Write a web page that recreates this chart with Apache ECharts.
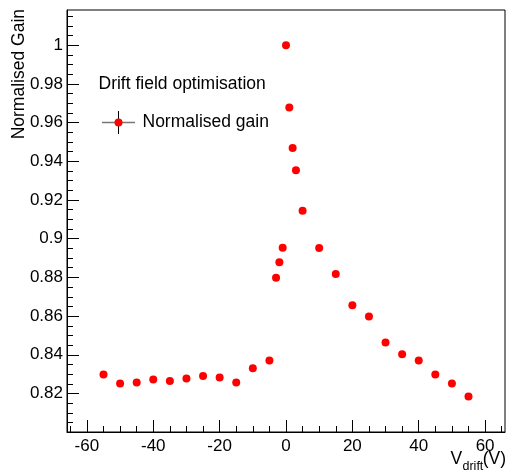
<!DOCTYPE html>
<html><head><meta charset="utf-8">
<script src="https://cdn.jsdelivr.net/npm/echarts@6/dist/echarts.min.js"></script>
<style>html,body{margin:0;padding:0;background:#fff}#c{width:507px;height:472px}</style>
</head><body><div id="c"></div>
<script>
const voltages = [-55,-50,-45,-40,-35,-30,-25,-20,-15,-10,-5,-3,-2,-1,0,1,2,3,5,10,15,20,25,30,35,40,45,50,55];
const gains = [0.8298,0.8252,0.8257,0.8272,0.8264,0.8278,0.8291,0.8283,0.8257,0.8331,0.8371,0.8798,0.8878,0.8953,1.0,0.9678,0.9469,0.9354,0.9144,0.8952,0.8818,0.8656,0.8598,0.8464,0.8403,0.8371,0.8298,0.8252,0.8184];
const xMajorTicks = [-60,-40,-20,0,20,40,60];
const xMinorTicks = [-65,-60,-55,-50,-45,-40,-35,-30,-25,-20,-15,-10,-5,0,5,10,15,20,25,30,35,40,45,50,55,60,65];
const yMajorTicks = [0.82,0.84,0.86,0.88,0.9,0.92,0.94,0.96,0.98,1.0];
const yMinorTicks = [0.805,0.81,0.815,0.82,0.825,0.83,0.835,0.84,0.845,0.85,0.855,0.86,0.865,0.87,0.875,0.88,0.885,0.89,0.895,0.9,0.905,0.91,0.915,0.92,0.925,0.93,0.935,0.94,0.945,0.95,0.955,0.96,0.965,0.97,0.975,0.98,0.985,0.99,0.995,1.0,1.005,1.01,1.015];
const yTitle = 'Normalised Gain';
const legendHeader = 'Drift field optimisation';
const seriesName = 'Normalised gain';

const FONT = '"Liberation Sans", Arial, Helvetica, sans-serif';
const X_MIN = -66, X_MAX = 66, Y_MIN = 0.8001, Y_MAX = 1.0182;

const chart = echarts.init(document.getElementById('c'), null, {renderer: 'canvas'});
const axisCommon = {type: 'value', splitLine: {show: false}};
chart.setOption({
  animation: false,
  backgroundColor: '#fff',
  grid: {left: 67, right: 2, top: 10, bottom: 40, show: true, borderColor: '#000', borderWidth: 1, backgroundColor: 'transparent'},
  xAxis: [
    Object.assign({}, axisCommon, {
      min: X_MIN, max: X_MAX, position: 'bottom',
      axisLine: {show: true, onZero: false, lineStyle: {color: '#000', width: 1}},
      axisTick: {show: true, inside: true, length: 12, customValues: xMajorTicks, lineStyle: {color: '#000'}},
      axisLabel: {show: true, customValues: xMajorTicks, margin: 6, fontSize: 17, color: '#000', fontFamily: FONT}
    }),
    Object.assign({}, axisCommon, {
      min: X_MIN, max: X_MAX, position: 'bottom',
      axisLine: {show: false, onZero: false},
      axisTick: {show: true, inside: true, length: 6, customValues: xMinorTicks, lineStyle: {color: '#000'}},
      axisLabel: {show: false}
    })
  ],
  yAxis: [
    Object.assign({}, axisCommon, {
      min: Y_MIN, max: Y_MAX, position: 'left',
      axisLine: {show: true, onZero: false, lineStyle: {color: '#000', width: 1}},
      axisTick: {show: true, inside: true, length: 12, customValues: yMajorTicks, lineStyle: {color: '#000'}},
      axisLabel: {show: true, customValues: yMajorTicks, margin: 4, fontSize: 17, color: '#000', fontFamily: FONT}
    }),
    Object.assign({}, axisCommon, {
      min: Y_MIN, max: Y_MAX, position: 'left',
      axisLine: {show: false, onZero: false},
      axisTick: {show: true, inside: true, length: 6, customValues: yMinorTicks, lineStyle: {color: '#000'}},
      axisLabel: {show: false}
    })
  ],
  series: [{
    name: seriesName,
    type: 'scatter',
    xAxisIndex: 0, yAxisIndex: 0,
    symbol: 'circle', symbolSize: 8,
    itemStyle: {color: '#ff0000', opacity: 1},
    data: voltages.map((v, i) => [v, gains[i]])
  }],
  graphic: [
    {type: 'text', x: 19, y: 9, rotation: Math.PI / 2,
      style: {text: yTitle, fontSize: 17.5, fontFamily: FONT, fill: '#000', align: 'right', verticalAlign: 'middle'}},
    {type: 'text', x: 98.5, y: 84,
      style: {text: legendHeader, fontSize: 17.5, fontFamily: FONT, fill: '#000', align: 'left', verticalAlign: 'middle'}},
    {type: 'line', shape: {x1: 102, y1: 122.5, x2: 135, y2: 122.5}, style: {stroke: '#777', lineWidth: 1.5}},
    {type: 'line', shape: {x1: 118.5, y1: 111, x2: 118.5, y2: 134}, style: {stroke: '#000', lineWidth: 1}},
    {type: 'circle', shape: {cx: 118.5, cy: 122.5, r: 4}, style: {fill: '#ff0000'}},
    {type: 'text', x: 142.5, y: 122.5,
      style: {text: seriesName, fontSize: 17.5, fontFamily: FONT, fill: '#000', align: 'left', verticalAlign: 'middle'}},
    {type: 'text', x: 450.5, y: 459,
      style: {text: 'V', fontSize: 17.5, fontFamily: FONT, fill: '#000', align: 'left', verticalAlign: 'middle'}},
    {type: 'text', x: 462.5, y: 466.5,
      style: {text: 'drift', fontSize: 12.5, fontFamily: FONT, fill: '#000', align: 'left', verticalAlign: 'middle'}},
    {type: 'text', x: 506, y: 459,
      style: {text: '(V)', fontSize: 17.5, fontFamily: FONT, fill: '#000', align: 'right', verticalAlign: 'middle'}}
  ]
});
</script>
</body></html>
